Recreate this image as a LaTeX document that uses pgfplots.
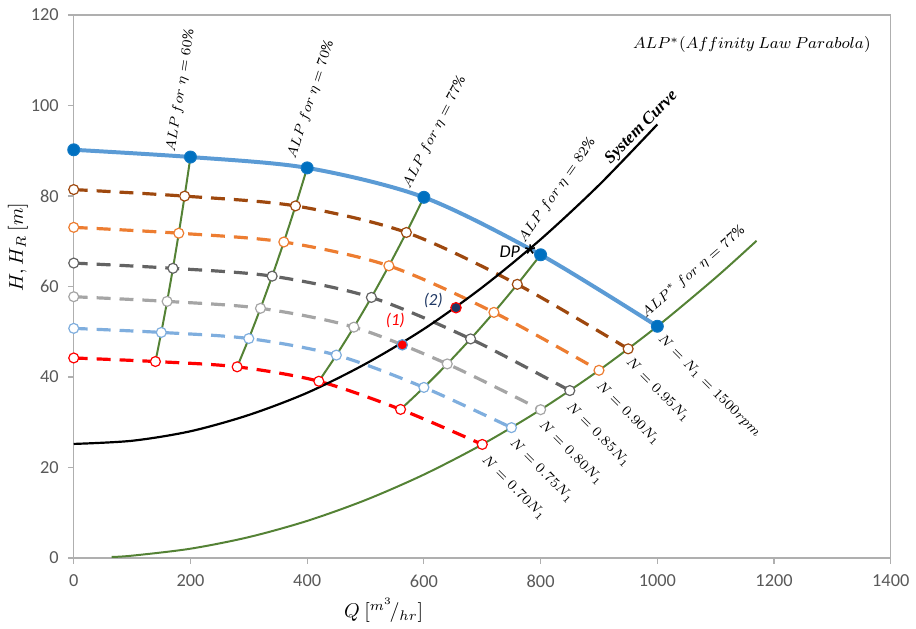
\documentclass[border=0pt]{standalone}
\usepackage{fontspec}
\setmainfont{Carlito}
\newfontfamily\serifbi{Liberation Serif}
\usepackage{pgfplots}
\pgfplotsset{compat=1.18}

\definecolor{nblue}{RGB}{91,155,213}
\definecolor{mblue}{RGB}{0,112,192}
\definecolor{cbrown}{RGB}{158,72,14}
\definecolor{corange}{RGB}{237,125,49}
\definecolor{cdgray}{RGB}{99,99,99}
\definecolor{clgray}{RGB}{165,165,165}
\definecolor{clblue}{RGB}{127,174,222}
\definecolor{cred}{RGB}{255,0,0}
\definecolor{cgreen}{RGB}{84,130,53}
\definecolor{cnavy}{RGB}{31,56,100}
\definecolor{tickgray}{RGB}{89,89,89}
\definecolor{axgray}{RGB}{175,175,175}

\newcommand{\lbl}{\fontsize{7.5}{9}\selectfont}

\pgfplotsset{
  nser/.style={color=#1, line width=1.6pt, dash pattern=on 7pt off 4.5pt, smooth,
    mark=*, mark size=2.5pt, mark options={solid, fill=white, draw=#1, line width=0.6pt}},
  alp/.style={color=cgreen, line width=1pt, smooth, no marks},
}

\begin{document}
\begin{tikzpicture}
\begin{axis}[
  at={(0,0)}, anchor=south west,
  scale only axis, width=410pt, height=272.5pt,
  xmin=0, xmax=1400, ymin=0, ymax=120,
  xtick={0,200,...,1400}, ytick={0,20,...,120},
  scaled ticks=false,
  /pgf/number format/1000 sep={},
  /pgf/number format/assume math mode=true,
  tick label style={font=\fontsize{9.2}{11}\selectfont, text=tickgray},
  tick pos=left, tick align=outside, major tick length=3pt,
  tick style={axgray, line width=0.6pt},
  axis line style={axgray, line width=0.7pt},
  xticklabel style={yshift=-2pt},
  yticklabel style={xshift=-1pt},
  clip=false,
]
\addplot[alp] coordinates {(140,43.41)(150,49.84)(160,56.70)(170,64.01)(180,71.77)(190,79.96)(200,88.6)};
\addplot[alp] coordinates {(280,42.24)(300,48.49)(320,55.17)(340,62.28)(360,69.82)(380,77.80)(400,86.2)};
\addplot[alp] coordinates {(420,39.05)(450,44.83)(480,51.01)(510,57.58)(540,64.56)(570,71.93)(600,79.7)};
\addplot[alp] coordinates {(560,32.83)(600,37.69)(640,42.88)(680,48.41)(720,54.27)(760,60.47)(800,67.0)};
\addplot[alp] coordinates {(65,0.22)(100,0.51)(200,2.05)(300,4.61)(400,8.19)(500,12.8)(600,18.43)(700,25.09)(800,32.77)(900,41.47)(1000,51.2)(1100,61.95)(1170,70.09)};
\addplot[nser=cbrown] coordinates {(0,81.41)(190,79.96)(380,77.80)(570,71.93)(760,60.47)(950,46.21)};
\addplot[nser=corange] coordinates {(0,73.06)(180,71.77)(360,69.82)(540,64.56)(720,54.27)(900,41.47)};
\addplot[nser=cdgray] coordinates {(0,65.17)(170,64.01)(340,62.28)(510,57.58)(680,48.41)(850,36.99)};
\addplot[nser=clgray] coordinates {(0,57.73)(160,56.70)(320,55.17)(480,51.01)(640,42.88)(800,32.77)};
\addplot[nser=clblue] coordinates {(0,50.74)(150,49.84)(300,48.49)(450,44.83)(600,37.69)(750,28.80)};
\addplot[nser=cred] coordinates {(0,44.20)(140,43.41)(280,42.24)(420,39.05)(560,32.83)(700,25.09)};
\addplot[color=nblue, line width=2pt, smooth, mark=*, mark size=3pt,
  mark options={fill=mblue, draw=mblue!80!nblue, line width=0.5pt}]
  coordinates {(0,90.2)(200,88.6)(400,86.2)(600,79.7)(800,67.0)(1000,51.2)};
\addplot[black, line width=1.1pt, smooth, no marks] coordinates {(0,25.2)(100,25.9)(200,28.0)(300,31.6)(400,36.5)(500,42.9)(600,50.6)(700,59.8)(800,70.4)(900,82.4)(1000,95.8)};
\addplot[only marks, mark=*, mark size=2.6pt, mark options={fill=cred, draw=nblue, line width=0.6pt}] coordinates {(563,47.1)};
\addplot[only marks, mark=*, mark size=2.6pt, mark options={fill=cnavy, draw=cred, line width=0.6pt}] coordinates {(655,55.3)};
\addplot[only marks, mark=star, mark size=2.5pt, mark options={black, line width=0.8pt}] coordinates {(782,68.2)};
\end{axis}
\begin{scope}[x=0.292857pt, y=2.270833pt]
\node[font=\fontsize{8.5}{10}\selectfont\itshape, text=cred] at (551,52.4) {(1)};
\node[font=\fontsize{8.5}{10}\selectfont\itshape, text=cnavy] at (616,57) {(2)};
\node[font=\fontsize{9}{10}\selectfont\itshape] at (747,67.6) {DP};
\node[rotate=81, font=\lbl] at (183,103.3) {$ALP\ for\ \eta=60\%$};
\node[rotate=72, font=\lbl] at (406,101.3) {$ALP\ for\ \eta=70\%$};
\node[rotate=63, font=\lbl] at (618,94) {$ALP\ for\ \eta=77\%$};
\node[rotate=55, font=\lbl] at (828,81.2) {$ALP\ for\ \eta=82\%$};
\node[rotate=41, font=\lbl] at (1061,63.2) {$ALP^{*}\ for\ \eta=77\%$};
\node[rotate=45, font=\serifbi\bfseries\itshape\fontsize{8.5}{10}\selectfont] at (973,95.1) {System Curve};
\node[font=\fontsize{8}{10}\selectfont] at (1162,113.4) {$ALP^{*}(Affinity\ Law\ Parabola)$};
\node[rotate=-45, anchor=north west, inner sep=0pt, font=\lbl] at (1012,49.9) {$N=N_1=1500rpm$};
\node[rotate=-45, anchor=north west, inner sep=0pt, font=\lbl] at (957,44.7) {$N=0.95N_1$};
\node[rotate=-45, anchor=north west, inner sep=0pt, font=\lbl] at (906,39.6) {$N=0.90N_1$};
\node[rotate=-45, anchor=north west, inner sep=0pt, font=\lbl] at (855,34.8) {$N=0.85N_1$};
\node[rotate=-45, anchor=north west, inner sep=0pt, font=\lbl] at (808,30.9) {$N=0.80N_1$};
\node[rotate=-45, anchor=north west, inner sep=0pt, font=\lbl] at (758,26.9) {$N=0.75N_1$};
\node[rotate=-45, anchor=north west, inner sep=0pt, font=\lbl] at (710,23.1) {$N=0.70N_1$};
\node[font=\fontsize{10}{12}\selectfont] at (531,-11.5) {$Q\ [{}^{m^3}\!/{}_{hr}]$};
\node[rotate=90, font=\fontsize{10}{12}\selectfont] at (-95.6,68.7) {$H, H_R\ [m]$};
\end{scope}
\path[use as bounding box] (-37pt,-35pt) rectangle (421pt,280pt);
\end{tikzpicture}
\end{document}
